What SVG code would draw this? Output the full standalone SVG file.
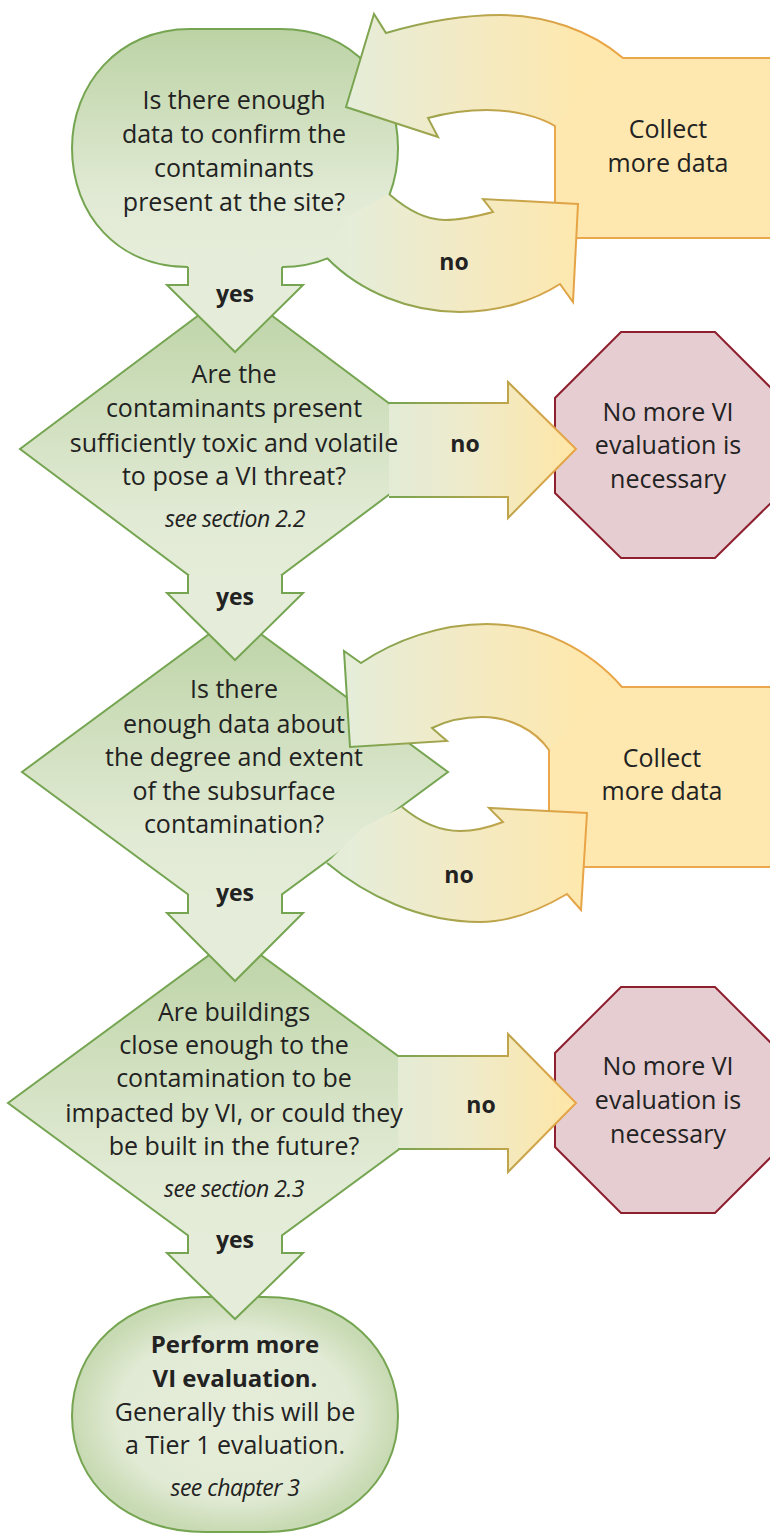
<svg xmlns="http://www.w3.org/2000/svg" width="770" height="1534" viewBox="0 0 770 1534">
<defs>
<style>
.gs{stroke:#76a552;stroke-width:2;stroke-linejoin:miter}
.ya{fill:#e5edda;stroke:none}
.yl{fill:none;stroke:#76a552;stroke-width:2}
.oct{fill:#e6cdd1;stroke:#8e1f2e;stroke-width:2}
.box{fill:#fee8b0;stroke:#eaa74c;stroke-width:2}
.t{font-family:"Open Sans","Liberation Sans",sans-serif;font-size:25px;fill:#222222;text-anchor:middle}
.b{font-weight:bold;font-size:23px}
.i{font-style:italic;font-size:23px;letter-spacing:-0.5px}
</style>
<linearGradient id="gV" x1="0" y1="0" x2="0" y2="1">
<stop offset="0" stop-color="#bcd3a5"/><stop offset="0.7" stop-color="#e1ead4"/><stop offset="1" stop-color="#e6eedb"/>
</linearGradient>
<radialGradient id="gR" cx="0.5" cy="0.5" r="0.5">
<stop offset="0" stop-color="#e6eedb"/><stop offset="0.72" stop-color="#e1ead4"/><stop offset="1" stop-color="#c8dab3"/>
</radialGradient>
<linearGradient id="gL1" gradientUnits="userSpaceOnUse" x1="346" y1="0" x2="585" y2="0">
<stop offset="0" stop-color="#e5edd9"/><stop offset="0.5" stop-color="#f3eac4"/><stop offset="1" stop-color="#fee8ad"/>
</linearGradient>
<linearGradient id="gL1s" gradientUnits="userSpaceOnUse" x1="346" y1="0" x2="585" y2="0">
<stop offset="0" stop-color="#76a552"/><stop offset="1" stop-color="#e9a446"/>
</linearGradient>
<linearGradient id="gN" gradientUnits="userSpaceOnUse" x1="389" y1="0" x2="576" y2="0">
<stop offset="0" stop-color="#e3ebd6"/><stop offset="0.4" stop-color="#eeebcc"/><stop offset="1" stop-color="#fee6a6"/>
</linearGradient>
<linearGradient id="gNs" gradientUnits="userSpaceOnUse" x1="389" y1="0" x2="576" y2="0">
<stop offset="0" stop-color="#76a552"/><stop offset="1" stop-color="#e9a446"/>
</linearGradient>
</defs>
<rect width="770" height="1534" fill="#ffffff"/>

<g id="node-collect1"><rect class="box" x="555" y="58" width="260" height="180"/></g>
<g id="node-collect2"><rect class="box" x="549" y="687" width="270" height="180"/></g>
<g id="node-stop1"><polygon class="oct" points="621,332 715,332 781,398 781,493 715,558 621,558 555,493 555,398"/></g>
<g id="node-stop2"><polygon class="oct" points="621,987 715,987 781,1053 781,1147 715,1213 621,1213 555,1147 555,1053"/></g>
<g id="node-q2"><polygon class="gs" fill="url(#gV)" points="235,288 450,449 235,610 20,449"/></g>
<g id="node-q3"><polygon class="gs" fill="url(#gV)" points="235,615 448,772 235,929 22,772"/></g>
<g id="node-q4"><polygon class="gs" fill="url(#gV)" points="235,936 462,1103 235,1270 8,1103"/></g>
<g id="node-q1"><path class="gs" fill="url(#gV)" d="M 190,29 H 280 C 355,29 398,85 398,148 C 398,215 350,267 282,267 H 188 C 118,267 72,215 72,148 C 72,85 118,29 190,29 Z"/></g>
<g id="node-end"><path class="gs" fill="url(#gR)" d="M 205,1297 H 265 C 345,1297 398,1350 398,1416 C 398,1484 340,1532 265,1532 H 205 C 128,1532 72,1484 72,1416 C 72,1350 125,1297 205,1297 Z"/></g>

<g id="connectors">
<path class="ya" d="M 188,255 H 282 V 285 H 303 L 235,352 L 167,285 H 188 Z"/>
<path class="yl" d="M 188,267 V 285 H 167 L 235,352 L 303,285 H 282 V 267"/>
<path class="ya" d="M 188,575 H 282 V 593 H 303 L 235,660 L 167,593 H 188 Z"/>
<path class="yl" d="M 188,575 V 593 H 167 L 235,660 L 303,593 H 282 V 575"/>
<path class="ya" d="M 188,894 H 282 V 913 H 303 L 235,981 L 167,913 H 188 Z"/>
<path class="yl" d="M 188,894 V 913 H 167 L 235,981 L 303,913 H 282 V 894"/>
<path class="ya" d="M 188,1235 H 282 V 1253 H 303 L 235,1319 L 167,1253 H 188 Z"/>
<path class="yl" d="M 188,1235 V 1253 H 167 L 235,1319 L 303,1253 H 282 V 1235"/>
<path fill="url(#gN)" d="M 389,403 H 508 V 382 L 576,449 L 508,518 V 497 H 389 Z"/>
<path fill="none" stroke="url(#gNs)" stroke-width="2" d="M 389,403 H 508 V 382 L 576,449 L 508,518 V 497 H 389"/>
<path fill="url(#gN)" d="M 398,1056 H 508 V 1034 L 576,1103 L 508,1172 V 1149 H 398 Z"/>
<path fill="none" stroke="url(#gNs)" stroke-width="2" d="M 398,1056 H 508 V 1034 L 576,1103 L 508,1172 V 1149 H 398"/>
<path fill="url(#gL1)" d="M 623,58 C 590,30 545,15 500,15 C 460,15 420,23 386,33 L 374,14 L 346,107 L 438,137 L 428,118 C 450,112 470,110 487,110 C 515,110 540,117 555,126 Z"/>
<path fill="none" stroke="url(#gL1s)" stroke-width="2" d="M 623,58 C 590,30 545,15 500,15 C 460,15 420,23 386,33 L 374,14 L 346,107 L 438,137 L 428,118 C 450,112 470,110 487,110 C 515,110 540,117 555,126"/>
<path fill="url(#gL1)" d="M 389,194 C 405,208 425,220 445,220 C 462,220 478,216 493,212 L 483,199 L 578,204 L 573,302 L 560,284 C 535,300 500,312 460,312 C 410,312 360,292 327,258 L 345,218 Z"/>
<path fill="none" stroke="url(#gL1s)" stroke-width="2" d="M 389,194 C 405,208 425,220 445,220 C 462,220 478,216 493,212 L 483,199 L 578,204 L 573,302 L 560,284 C 535,300 500,312 460,312 C 410,312 360,292 327,258"/>
<path fill="url(#gL1)" d="M 622,687 C 590,650 540,624 487,624 C 440,624 395,640 361,663 L 344,651 L 350,747 L 447,741 L 432,728 C 448,720 465,717 482,717 C 510,717 535,730 549,750 Z"/>
<path fill="none" stroke="url(#gL1s)" stroke-width="2" d="M 622,687 C 590,650 540,624 487,624 C 440,624 395,640 361,663 L 344,651 L 350,747 L 447,741 L 432,728 C 448,720 465,717 482,717 C 510,717 535,730 549,750"/>
<path fill="url(#gL1)" d="M 402,807 C 420,822 440,831 460,831 C 475,831 490,827 503,822 L 489,808 L 587,813 L 581,910 L 567,894 C 540,910 510,922 480,922 C 420,922 365,895 327,863 L 362,828 Z"/>
<path fill="none" stroke="url(#gL1s)" stroke-width="2" d="M 402,807 C 420,822 440,831 460,831 C 475,831 490,827 503,822 L 489,808 L 587,813 L 581,910 L 567,894 C 540,910 510,922 480,922 C 420,922 365,895 327,863"/>
<text class="t b" x="235" y="302">yes</text>
<text class="t b" x="235" y="605">yes</text>
<text class="t b" x="235" y="901">yes</text>
<text class="t b" x="235" y="1248">yes</text>
<text class="t b" x="454" y="270">no</text>
<text class="t b" x="465" y="452">no</text>
<text class="t b" x="459" y="883">no</text>
<text class="t b" x="481" y="1113">no</text>
</g>

<g id="node-q1-text" class="t">
<text x="234" y="109">Is there enough</text>
<text x="234" y="143">data to confirm the</text>
<text x="234" y="177">contaminants</text>
<text x="234" y="211">present at the site?</text>
</g>
<g id="node-collect1-text" class="t">
<text x="668" y="138">Collect</text>
<text x="668" y="172">more data</text>
</g>
<g id="node-q2-text" class="t">
<text x="234" y="383">Are the</text>
<text x="234" y="417">contaminants present</text>
<text x="234" y="452">sufficiently toxic and volatile</text>
<text x="234" y="485">to pose a VI threat?</text>
<text class="t i" x="235" y="527">see section 2.2</text>
</g>
<g id="node-stop1-text" class="t">
<text x="668" y="421">No more VI</text>
<text x="668" y="454">evaluation is</text>
<text x="668" y="488">necessary</text>
</g>
<g id="node-q3-text" class="t">
<text x="234" y="698">Is there</text>
<text x="234" y="733">enough data about</text>
<text x="234" y="766">the degree and extent</text>
<text x="234" y="800">of the subsurface</text>
<text x="234" y="833">contamination?</text>
</g>
<g id="node-collect2-text" class="t">
<text x="662" y="767">Collect</text>
<text x="662" y="800">more data</text>
</g>
<g id="node-q4-text" class="t">
<text x="234" y="1021">Are buildings</text>
<text x="234" y="1054">close enough to the</text>
<text x="234" y="1087">contamination to be</text>
<text x="234" y="1122">impacted by VI, or could they</text>
<text x="234" y="1155">be built in the future?</text>
<text class="t i" x="234" y="1197">see section 2.3</text>
</g>
<g id="node-stop2-text" class="t">
<text x="668" y="1075">No more VI</text>
<text x="668" y="1109">evaluation is</text>
<text x="668" y="1143">necessary</text>
</g>
<g id="node-end-text" class="t">
<text class="t b" x="235" y="1353" style="font-size:24px">Perform more</text>
<text class="t b" x="235" y="1387" style="font-size:24px">VI evaluation.</text>
<text x="235" y="1421">Generally this will be</text>
<text x="235" y="1454">a Tier 1 evaluation.</text>
<text class="t i" x="235" y="1496">see chapter 3</text>
</g>
</svg>
